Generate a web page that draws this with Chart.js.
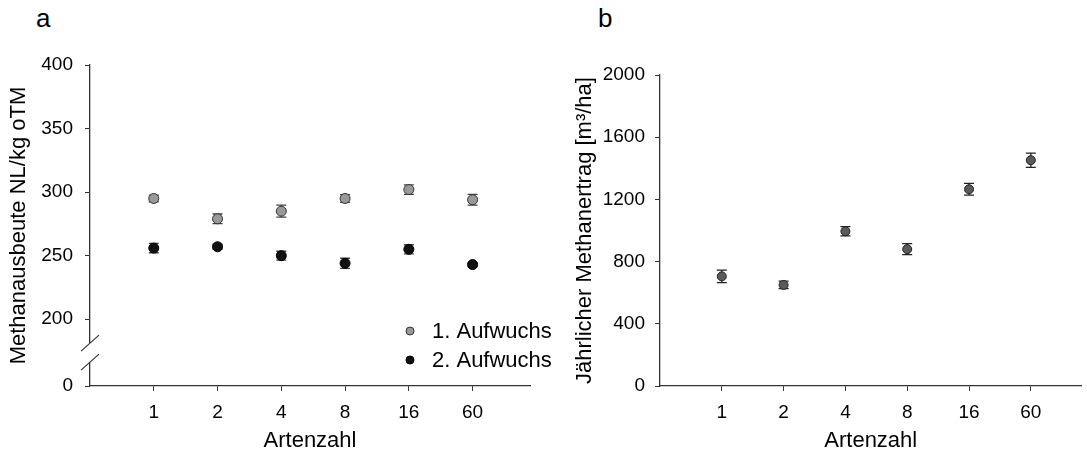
<!DOCTYPE html>
<html>
<head>
<meta charset="utf-8">
<script src="https://cdn.jsdelivr.net/npm/chart.js@4.4.0/dist/chart.umd.min.js"></script>
<style>
  body { margin: 0; background: #fff; font-family: "Liberation Sans", Arial, sans-serif; }
  #wrap { position: relative; width: 1087px; height: 459px; overflow: hidden; }
  .box { position: absolute; top: 0; height: 459px; }
  #boxA { left: 0; width: 560px; }
  #boxB { left: 543px; width: 544px; }
  .letter { position: absolute; top: 3px; font-size: 26px; color: #000; }
</style>
</head>
<body>
<div id="wrap">
  <div class="letter" style="left:36px">a</div>
  <div class="letter" style="left:598px">b</div>
  <div class="box" id="boxA"><canvas id="chartA" width="560" height="459"></canvas></div>
  <div class="box" id="boxB"><canvas id="chartB" width="544" height="459"></canvas></div>
</div>
<script>
// Artenzahl (number of species)
const categories = ['1', '2', '4', '8', '16', '60'];

// panel a: methane yield NL/kg oTM
const seriesNames = ['1. Aufwuchs', '2. Aufwuchs'];
const yieldFirst = [295, 279, 285, 295, 302, 294];
const yieldFirstErr = [2.6, 3.8, 4.7, 3.0, 3.7, 4.3];
const yieldSecond = [256, 257, 250, 244, 255, 243];
const yieldSecondErr = [3.7, 2.0, 3.5, 4.0, 3.6, 1.5];
// axis is broken: the "0" tick sits just below 200
const axisZeroA = 147.5;
const yTicksA = [axisZeroA, 200, 250, 300, 350, 400];

// panel b: annual methane yield m³/ha
const annual = [705, 650, 995, 880, 1265, 1452];
const annualErr = [40, 24, 30, 35, 38, 46];
const yTicksB = [0, 400, 800, 1200, 1600, 2000];

const FONT = '"Liberation Sans", Arial, sans-serif';
const axisColor = '#333';

const toPoints = vals => vals.map((v, i) => ({ x: i + 1, y: v }));

const errorBars = {
    id: 'errorBars',
    beforeDatasetsDraw(chart, args, opts) {
        const ctx = chart.ctx;
        const xs = chart.scales.x, ys = chart.scales.y;
        ctx.save();
        chart.data.datasets.forEach((ds, di) => {
            const errs = opts.errors[di];
            ds.data.forEach((p, i) => {
                const x = xs.getPixelForValue(p.x);
                const y1 = ys.getPixelForValue(p.y + errs[i]);
                const y2 = ys.getPixelForValue(p.y - errs[i]);
                ctx.strokeStyle = opts.color;
                ctx.lineWidth = 1.3;
                ctx.beginPath();
                ctx.moveTo(x, y1); ctx.lineTo(x, y2);
                ctx.moveTo(x - opts.cap, y1); ctx.lineTo(x + opts.cap, y1);
                ctx.moveTo(x - opts.cap, y2); ctx.lineTo(x + opts.cap, y2);
                ctx.stroke();
            });
        });
        ctx.restore();
    }
};

const axisBreak = {
    id: 'axisBreak',
    afterDraw(chart, args, opts) {
        if (!opts.on) return;
        const ctx = chart.ctx;
        const ys = chart.scales.y;
        const x = chart.chartArea.left;
        const mid = (ys.getPixelForValue(axisZeroA) + ys.getPixelForValue(200)) / 2;
        const gap = 9.5;
        ctx.save();
        ctx.fillStyle = '#fff';
        ctx.fillRect(x - 2, mid - gap, 4, gap * 2);
        ctx.strokeStyle = axisColor;
        ctx.lineWidth = 1.2;
        ctx.beginPath();
        [mid - gap, mid + gap].forEach(c => {
            ctx.moveTo(x - 9, c + 8);
            ctx.lineTo(x + 9, c - 8);
        });
        ctx.stroke();
        ctx.restore();
    }
};

const innerLegend = {
    id: 'innerLegend',
    afterDraw(chart, args, opts) {
        if (!opts.on) return;
        const ctx = chart.ctx;
        ctx.save();
        ctx.font = '22px ' + FONT;
        ctx.textBaseline = 'middle';
        chart.data.datasets.forEach((ds, i) => {
            const y = opts.y + i * 29;
            ctx.beginPath();
            ctx.arc(opts.x, y, 4, 0, Math.PI * 2);
            ctx.fillStyle = ds.backgroundColor;
            ctx.fill();
            ctx.strokeStyle = ds.borderColor;
            ctx.lineWidth = 1;
            ctx.stroke();
            ctx.fillStyle = '#000';
            ctx.fillText(ds.label, opts.x + 22, y + 1);
        });
        ctx.restore();
    }
};

function axisX(max) {
    return {
        type: 'linear', min: 0, max: max,
        afterBuildTicks: s => { s.ticks = categories.map((c, i) => ({ value: i + 1 })); },
        afterFit: s => { s.height = 73; },
        grid: { drawOnChartArea: false, drawTicks: true, tickLength: 5, color: axisColor },
        border: { color: axisColor, width: 1.3 },
        ticks: {
            color: '#000', font: { family: FONT, size: 19 }, padding: 10,
            autoSkip: false, maxRotation: 0,
            callback: v => categories[v - 1]
        },
        title: { display: true, text: 'Artenzahl', color: '#000', font: { family: FONT, size: 22 }, padding: { top: 0, bottom: 5 } }
    };
}

function axisY(ticks, width, title, titlePad, tickPad, label) {
    return {
        type: 'linear', min: ticks[0], max: ticks[ticks.length - 1],
        afterBuildTicks: s => { s.ticks = ticks.map(v => ({ value: v })); },
        afterFit: s => { s.width = width; },
        grid: { drawOnChartArea: false, drawTicks: true, tickLength: 5, color: axisColor },
        border: { color: axisColor, width: 1.3 },
        ticks: { color: '#000', font: { family: FONT, size: 19 }, padding: tickPad, callback: label },
        title: { display: true, text: title, color: '#000', font: { family: FONT, size: 22 }, padding: { top: titlePad, bottom: 0 } }
    };
}

new Chart(document.getElementById('chartA'), {
    type: 'scatter',
    data: {
        datasets: [
            { label: seriesNames[0], data: toPoints(yieldFirst), backgroundColor: '#999999', borderColor: '#333', borderWidth: 1, pointRadius: 5 },
            { label: seriesNames[1], data: toPoints(yieldSecond), backgroundColor: '#111111', borderColor: '#000', borderWidth: 1, pointRadius: 5 }
        ]
    },
    options: {
        responsive: false, animation: false,
        layout: { padding: { left: 0, right: 30, top: 65, bottom: 0 } },
        plugins: {
            legend: { display: false }, tooltip: { enabled: false },
            errorBars: { errors: [yieldFirstErr, yieldSecondErr], color: '#444', cap: 5 },
            axisBreak: { on: true },
            innerLegend: { on: true, x: 410, y: 331 }
        },
        scales: {
            x: axisX(6.9),
            y: axisY(yTicksA, 90, 'Methanausbeute NL/kg oTM', 6, 12, v => v === axisZeroA ? '0' : v)
        }
    },
    plugins: [errorBars, axisBreak, innerLegend]
});

new Chart(document.getElementById('chartB'), {
    type: 'scatter',
    data: {
        datasets: [
            { label: 'Jährlicher Methanertrag', data: toPoints(annual), backgroundColor: '#5a5a5a', borderColor: '#222', borderWidth: 1, pointRadius: 4.5 }
        ]
    },
    options: {
        responsive: false, animation: false,
        layout: { padding: { left: 0, right: 2, top: 75, bottom: 0 } },
        plugins: {
            legend: { display: false }, tooltip: { enabled: false },
            errorBars: { errors: [annualErr], color: '#222', cap: 5 },
            axisBreak: { on: false },
            innerLegend: { on: false }
        },
        scales: {
            x: axisX(6.82),
            y: axisY(yTicksB, 117, 'Jährlicher Methanertrag [m³/ha]', 29, 10, v => v)
        }
    },
    plugins: [errorBars, axisBreak, innerLegend]
});
</script>
</body>
</html>
